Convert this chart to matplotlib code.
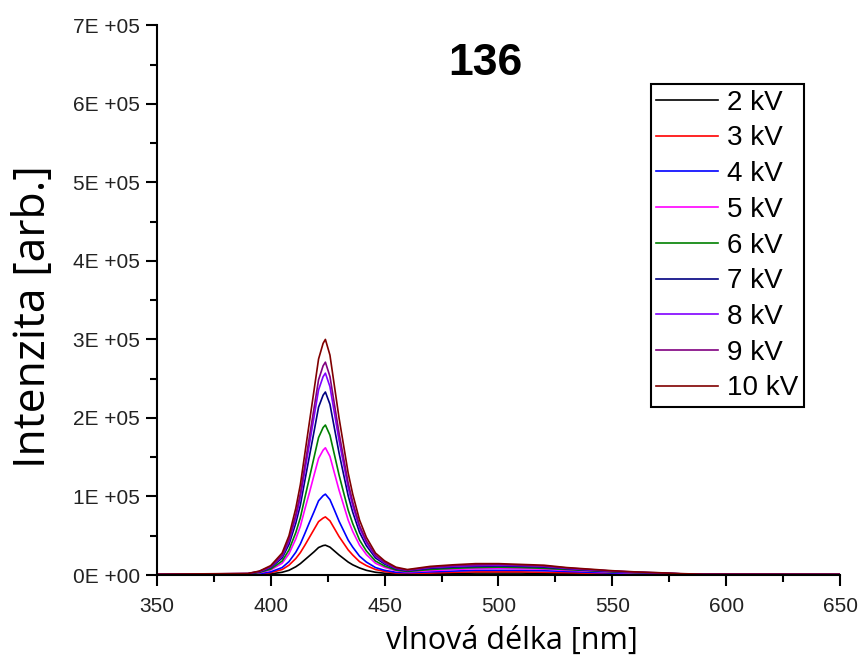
import numpy as np
import matplotlib.pyplot as plt
from matplotlib.ticker import MultipleLocator, FuncFormatter

# vlnove delky [nm]
wl = [350, 390, 395, 400, 405, 408, 411, 413, 415, 417, 419, 421, 423, 424,
      426, 428, 430, 432, 434, 436, 439, 442, 446, 450, 455, 460, 470, 480,
      490, 500, 510, 520, 530, 540, 550, 560, 570, 580, 590, 650]

# intenzity v tisicich
i2 = [0.3, 0.5, 0.8, 1.5, 3.5, 6, 10.5, 14.5, 19.5, 24.5, 29.5, 35, 37.5, 38,
      35.5, 30.5, 25.5, 21, 16.5, 13, 9, 6, 3.5, 2.3, 1.5, 1.2, 1.5, 2,
      2.5, 2.5, 2.5, 2, 1.7, 1.3, 1, 0.8, 0.6, 0.4, 0.3, 0.3]
i3 = [0.3, 0.5, 1.2, 3, 7, 12.5, 21, 28.5, 38, 48, 58, 68, 72.5, 74,
      69, 59, 49, 40.5, 32, 25.5, 17, 12, 7, 4.5, 2.5, 2, 2.5, 3.5,
      4, 4, 4, 3.5, 3, 2.3, 1.8, 1.3, 1, 0.6, 0.4, 0.3]
i4 = [0.4, 0.7, 1.7, 4, 9.5, 17, 29, 39.5, 53, 67, 80.5, 94.5, 101, 103,
      96, 82.5, 68.5, 56.5, 44.5, 35.5, 24, 16.5, 9.5, 6, 3.5, 3, 4, 5,
      6, 6, 6, 5.5, 4.5, 3.5, 2.5, 2, 1.5, 1, 0.6, 0.4]
i5 = [0.5, 1.1, 2.7, 6.5, 15, 27, 46, 62, 84, 105, 127, 148.5, 159, 162,
      151, 129.5, 108, 89, 70, 55.5, 38, 26, 15, 9.7, 5.4, 4, 5.5, 7,
      8, 8.5, 8, 7.5, 6, 5, 3.5, 2.5, 2, 1.2, 0.8, 0.5]
i6 = [0.6, 1.3, 3.2, 7.6, 17.8, 31.9, 54, 73, 98.7, 124, 149.6, 175, 187.8, 191,
      178, 152.8, 127.4, 105, 82.7, 65.5, 44.5, 30.6, 17.8, 11.5, 6.3, 4.5, 7, 8.5,
      9.5, 10, 9.5, 8.5, 7, 5.5, 4, 3, 2.2, 1.4, 0.9, 0.6]
i7 = [0.7, 1.6, 4, 9.3, 21.7, 38.9, 66, 89, 120.5, 151.5, 182.4, 213.7, 229, 233,
      217.4, 186.4, 155.4, 128, 101, 80, 54.3, 37.3, 21.7, 14, 7.7, 5.4, 8.5, 10,
      11, 11.5, 11, 10, 8, 6, 4.5, 3.3, 2.4, 1.5, 1, 0.7]
i8 = [0.8, 1.8, 4.4, 10.3, 23.9, 42.9, 72.7, 98.4, 132.9, 167, 201.2, 235.7, 252.6, 257,
      239.8, 205.6, 171.4, 141.4, 111.3, 88.2, 59.9, 41.1, 23.9, 15.4, 8.5, 6, 9.5, 11,
      12, 12.5, 12, 11, 8.5, 6.5, 5, 3.5, 2.6, 1.5, 1, 0.8]
i9 = [0.8, 1.9, 4.6, 10.8, 25.2, 45.3, 76.7, 103.8, 140.1, 176.2, 212.2, 248.5, 266.4, 271,
      252.8, 216.8, 180.7, 149, 117.3, 93, 63.1, 43.4, 25.2, 16.3, 8.9, 6.3, 10, 12,
      13, 13.5, 12.5, 11.5, 9, 7, 5, 3.8, 2.8, 1.6, 1, 0.8]
i10 = [1, 2, 5, 12, 28, 50, 85, 115, 155, 195, 235, 275, 295, 300,
       280, 240, 200, 165, 130, 103, 70, 48, 28, 18, 10, 7, 11, 13,
       14.5, 14.5, 13.5, 12.5, 9.5, 7.5, 5.5, 4, 3, 1.8, 1, 0.9]

series = [i2, i3, i4, i5, i6, i7, i8, i9, i10]
labels = ['2 kV', '3 kV', '4 kV', '5 kV', '6 kV', '7 kV', '8 kV', '9 kV', '10 kV']
colors = ['#000000', '#FF0000', '#0000FF', '#FF00FF', '#008000',
          '#000080', '#8000FF', '#800080', '#800000']

fig = plt.figure(figsize=(8.62, 6.64), dpi=100)
ax = fig.add_axes([0.182, 0.134, 0.7925, 0.828])

for s, lab, c in zip(series, labels, colors):
    ax.plot(wl, np.array(s) * 1000, color=c, lw=1.2, label=lab)

ax.set_xlim(350, 650)
ax.set_ylim(0, 7e5)

for side in ['top', 'right']:
    ax.spines[side].set_visible(False)
for side in ['left', 'bottom']:
    ax.spines[side].set_linewidth(1.5)

ax.xaxis.set_major_locator(MultipleLocator(50))
ax.xaxis.set_minor_locator(MultipleLocator(25))
ax.yaxis.set_major_locator(MultipleLocator(1e5))
ax.yaxis.set_minor_locator(MultipleLocator(5e4))


def efmt(v, pos):
    n = int(round(v / 1e5))
    return '0E +00' if n == 0 else '%dE +05' % n


ax.yaxis.set_major_formatter(FuncFormatter(efmt))
ax.tick_params(which='major', direction='out', length=8, width=1.5, pad=4,
               labelsize=15, labelcolor='#222222')
ax.tick_params(axis='x', which='major', pad=8)
ax.tick_params(which='minor', direction='out', length=5, width=1.5)
for t in ax.get_xticklabels() + ax.get_yticklabels():
    t.set_family('Liberation Sans')

ax.set_ylabel('Intenzita [arb.]', fontsize=32, family='Open Sans')
ax.yaxis.set_label_coords(-0.147, 0.47)
ax.set_xlabel('vlnová délka [nm]', fontsize=22, family='Open Sans')
ax.xaxis.set_label_coords(0.52, -0.093)

ax.text(0.481, 0.93, '136', transform=ax.transAxes, ha='center', va='center',
        fontsize=32, fontweight='bold', family='Liberation Sans')

leg = ax.legend(loc='upper left', bbox_to_anchor=(0.723, 0.893), borderaxespad=0,
                fancybox=False, framealpha=1, edgecolor='black',
                handlelength=2.23, labelspacing=0.35, borderpad=0.2,
                handletextpad=0.33, prop={'family': 'Liberation Sans', 'size': 20})
leg.get_frame().set_linewidth(1.5)

fig.savefig('out.png', dpi=100)
